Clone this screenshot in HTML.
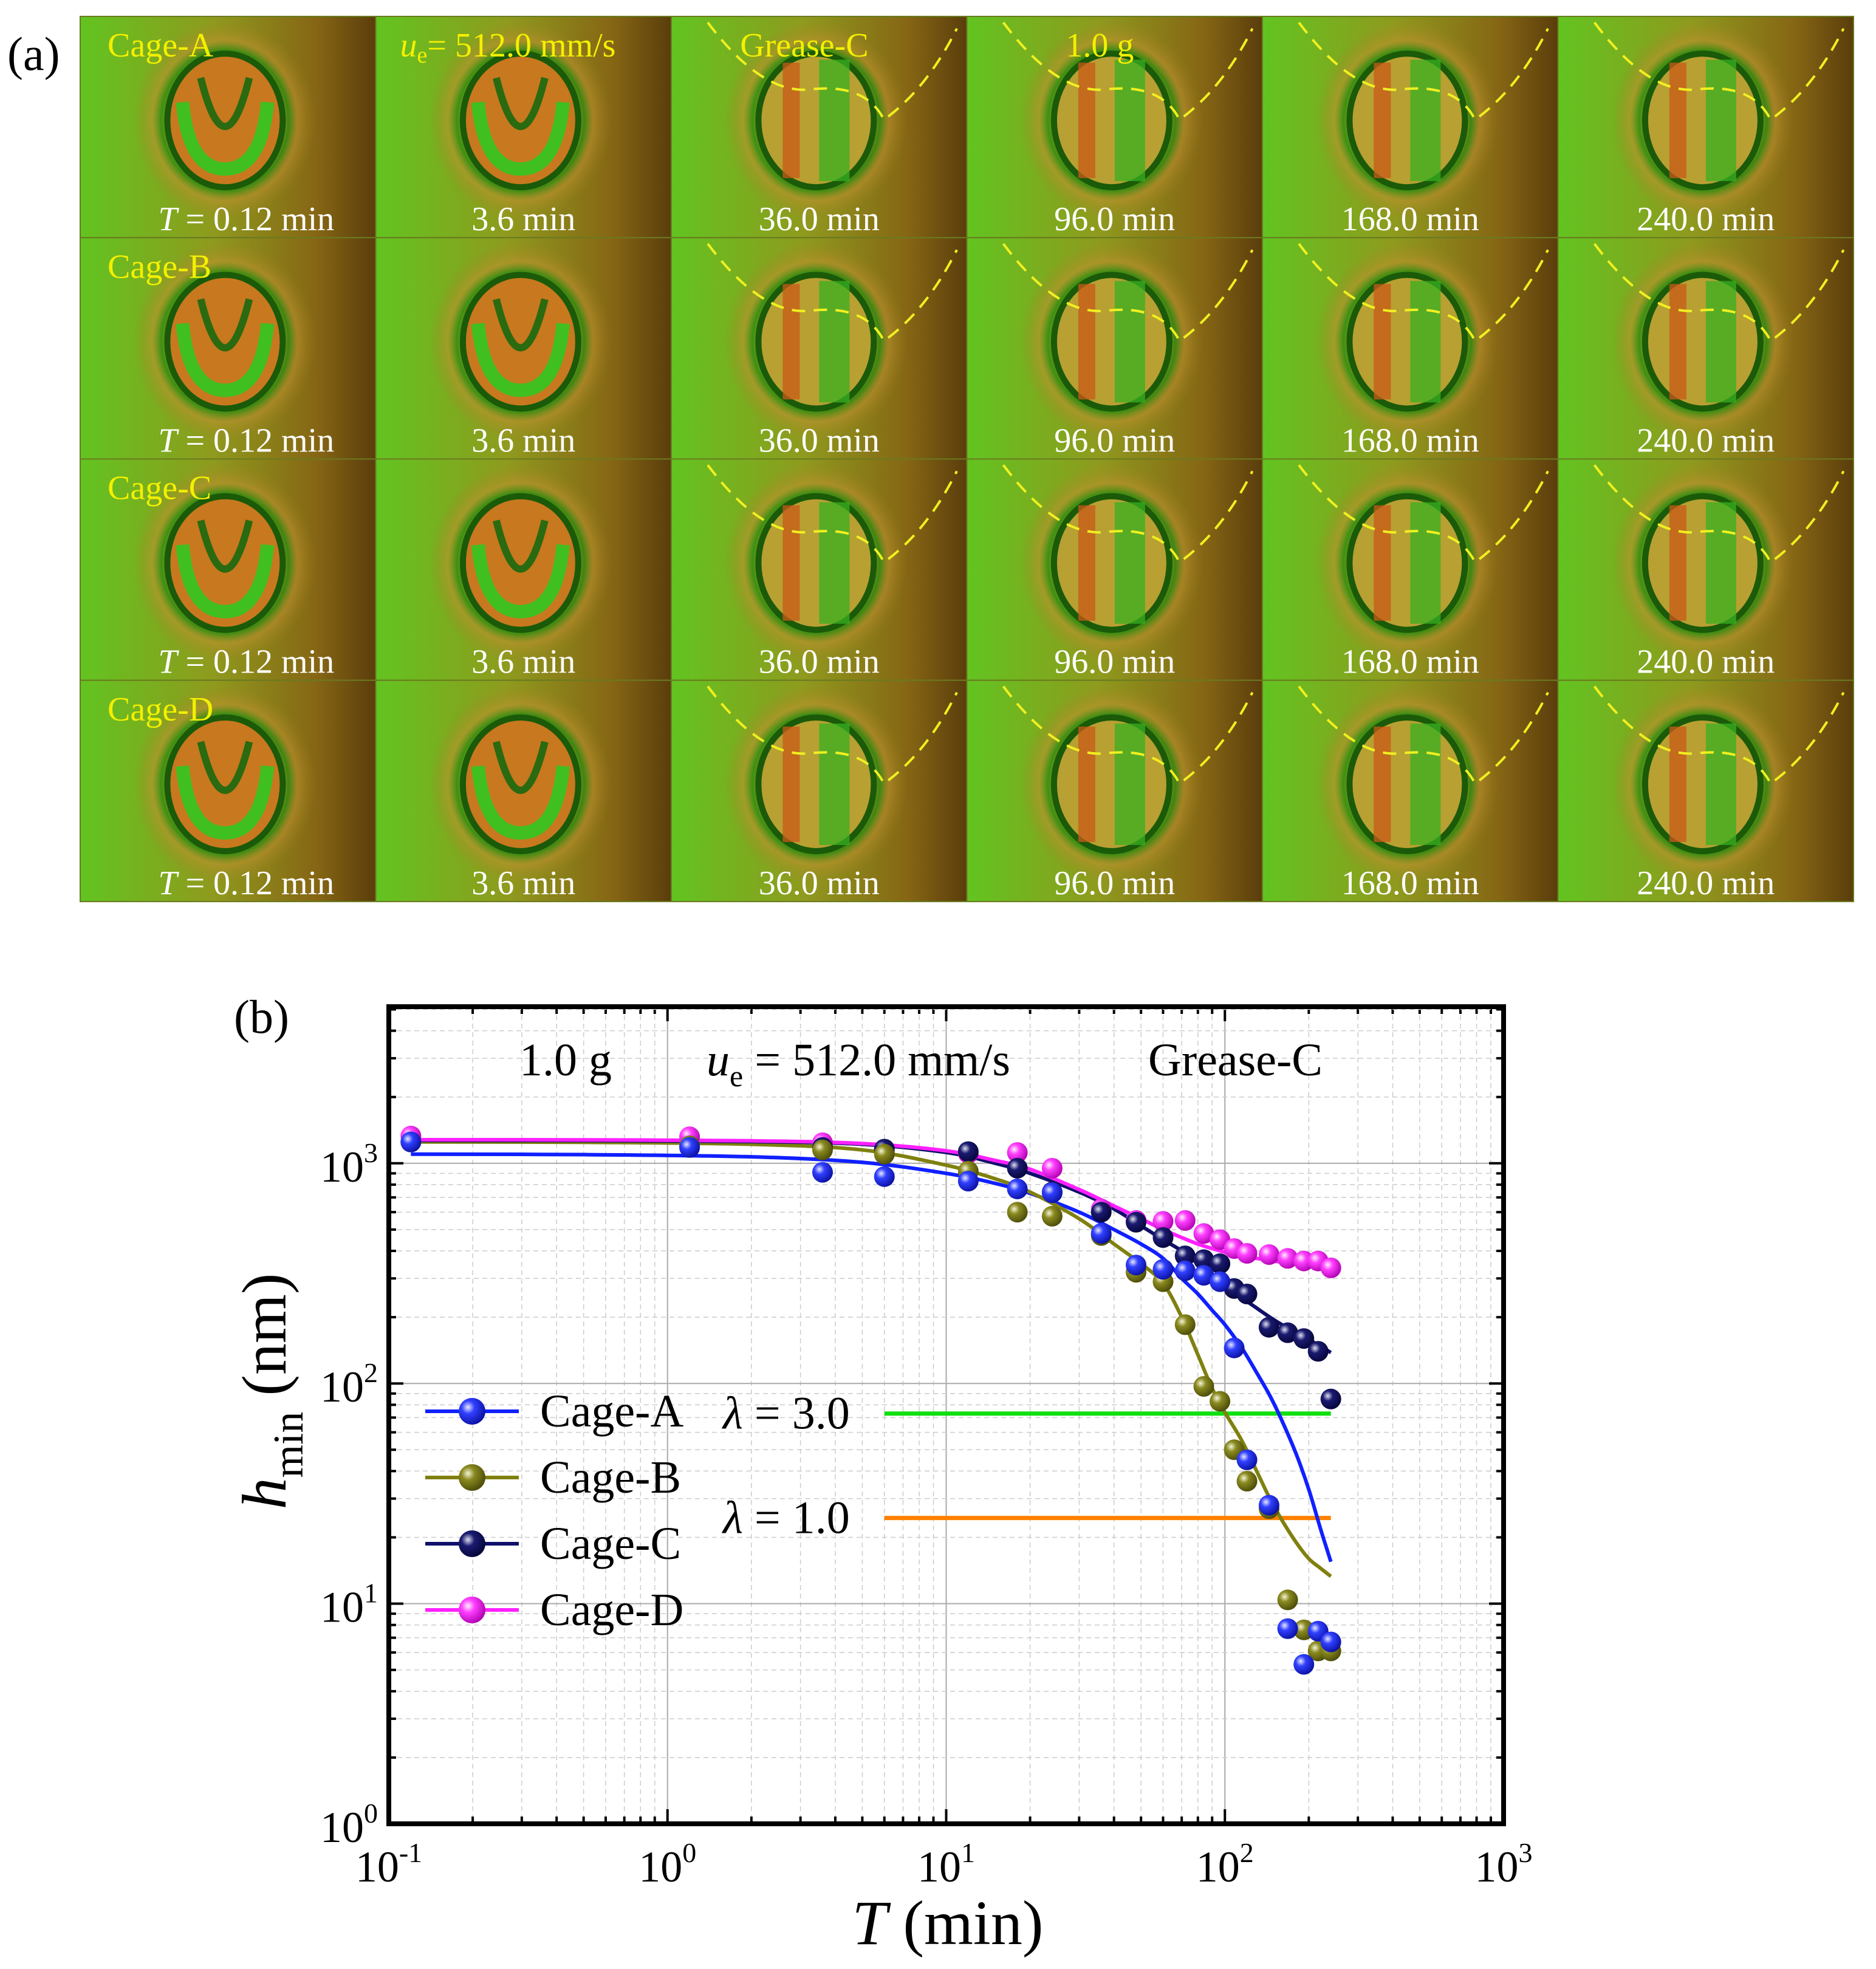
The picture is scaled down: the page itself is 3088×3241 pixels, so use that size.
<!DOCTYPE html>
<html><head><meta charset="utf-8"><style>
html,body{margin:0;padding:0;background:#fff;}
svg{display:block;font-family:"Liberation Serif",serif;}
</style></head><body>
<svg id="fig" width="3088" height="3241" viewBox="0 0 3088 3241" xmlns="http://www.w3.org/2000/svg">
<defs>
<linearGradient id="bg" x1="0" x2="1" y1="0" y2="0">
<stop offset="0" stop-color="#62c420"/><stop offset="0.45" stop-color="#8f9a1e"/><stop offset="0.8" stop-color="#866614"/><stop offset="1" stop-color="#5a3d0c"/>
</linearGradient>
<radialGradient id="ring" cx="0.5" cy="0.5" r="0.5">
<stop offset="0.55" stop-color="#d8a020"/><stop offset="0.7" stop-color="#2a8a10"/><stop offset="0.8" stop-color="#c09030" stop-opacity="0.7"/><stop offset="1" stop-color="#a08020" stop-opacity="0"/>
</radialGradient>
<radialGradient id="gA" cx="0.35" cy="0.35" r="0.7"><stop offset="0" stop-color="#e8e8ff"/><stop offset="0.35" stop-color="#3040ff"/><stop offset="1" stop-color="#0a10a0"/></radialGradient>
<radialGradient id="gB" cx="0.35" cy="0.35" r="0.7"><stop offset="0" stop-color="#f4f4d8"/><stop offset="0.35" stop-color="#8a8a20"/><stop offset="1" stop-color="#4a4a08"/></radialGradient>
<radialGradient id="gC" cx="0.35" cy="0.35" r="0.7"><stop offset="0" stop-color="#e0e0f0"/><stop offset="0.35" stop-color="#1a1a70"/><stop offset="1" stop-color="#05053a"/></radialGradient>
<radialGradient id="gD" cx="0.35" cy="0.35" r="0.7"><stop offset="0" stop-color="#fff0ff"/><stop offset="0.35" stop-color="#ff40ff"/><stop offset="1" stop-color="#b000b0"/></radialGradient>
</defs>
<text x="12" y="115" font-size="78">(a)</text>
<g id="panelA"></g>
<g id="panelB"></g>
</svg>
<script>
// ---------- chart data ----------
const times = [0.12,1.2,3.6,6,12,18,24,36,48,60,72,84,96,108,120,144,168,192,216,240];
const cageA = [1250,1180,910,870,830,765,735,480,345,330,325,310,290,145,45,28,7.7,5.3,7.5,6.7];
const cageB = [1250,1200,1150,1100,920,600,575,470,320,290,185,97,83,50,36,27,10.4,7.6,6.1,6.1];
const cageC = [1250,1200,1180,1160,1130,950,740,600,540,460,380,365,350,270,255,180,170,160,140,85];
const cageD = [1330,1320,1240,1150,1110,1120,950,620,550,545,550,480,450,410,390,385,370,360,360,335];
const fitT = [0.12,0.5,2,5,10,15,20,30,40,50,60,70,80,90,100,115,130,145,160,180,200,220,240];
const fitA = [1100,1095,1070,1010,900,810,730,600,500,430,370,300,255,215,185,145,112,88,68,48,33,22,15.5];
const fitB = [1250,1245,1220,1150,980,850,740,560,430,350,285,200,135,95,74,55,40,30,24,19,16,14.5,13.3];
const fitC = [1270,1268,1255,1220,1120,1000,900,740,620,520,450,400,350,310,280,245,220,200,185,170,158,148,138];
const fitD = [1280,1278,1265,1230,1140,1030,940,760,640,560,500,460,430,410,395,380,370,362,356,350,348,346,345];
const lambdaVals = [73,24.5];
const lambdaLabels = ["λ = 3.0","λ = 1.0"];
const lambdaRange = [6,240];
const xTicks = [-1,0,1,2,3];
const yTicks = [0,1,2,3];
const seriesNames = ["Cage-A","Cage-B","Cage-C","Cage-D"];

const NS="http://www.w3.org/2000/svg";
function mk(tag,attrs,parent){const e=document.createElementNS(NS,tag);for(const k in attrs)e.setAttribute(k,attrs[k]);parent.appendChild(e);return e;}

// ---------- panel a ----------
const A=document.getElementById('panelA');
const gx0=132,gy0=27,cw=486.5,ch=364.25;
const botLabels=["0.12 min","3.6 min","36.0 min","96.0 min","168.0 min","240.0 min"];
const rowNames=["Cage-A","Cage-B","Cage-C","Cage-D"];
const topLabels=["","","Grease-C","1.0 g","",""];
for(let r=0;r<4;r++)for(let c=0;c<6;c++){
  const x=gx0+c*cw,y=gy0+r*ch;
  const cell=mk('g',{},A);
  
  
  mk('rect',{x:x,y:y,width:cw,height:ch,fill:'url(#bg)',stroke:'#6a7a20','stroke-width':2},cell);
  const cx=x+cw*0.49,cy=y+ch*0.47;
  mk('ellipse',{cx:cx,cy:cy,rx:150,ry:165,fill:'url(#ring)',opacity:0.8},cell);
  const inner = c<2 ? '#c8781e' : '#b8a032';
  mk('ellipse',{cx:cx,cy:cy,rx:95,ry:110,fill:inner,stroke:'#1a5a08','stroke-width':10},cell);
  if(c<2){
    mk('path',{d:`M${cx-70} ${cy-30} Q${cx-60} ${cy+80} ${cx} ${cy+80} Q${cx+60} ${cy+80} ${cx+70} ${cy-30}`,fill:'none',stroke:'#40c020','stroke-width':22},cell);
    mk('path',{d:`M${cx-40} ${cy-70} Q${cx} ${cy+90} ${cx+40} ${cy-70}`,fill:'none',stroke:'#2a6a10','stroke-width':12},cell);
  } else {
    mk('rect',{x:cx-55,y:cy-95,width:28,height:190,fill:'#c85a18',opacity:0.75},cell);
    mk('rect',{x:cx+5,y:cy-100,width:50,height:200,fill:'#38b020',opacity:0.75},cell);
    mk('path',{d:`M${x+60} ${y+10} Q${x+150} ${y+130} ${x+230} ${y+120} Q${x+320} ${y+110} ${x+350} ${y+170} Q${x+420} ${y+120} ${x+470} ${y+20}`,fill:'none',stroke:'#f0f020','stroke-width':4,'stroke-dasharray':'22 14'},cell);
  }
  const lt=mk('text',{x:x+cw*0.5+ (c==0?30:0),y:y+352,'font-size':56,fill:'#fff','text-anchor':'middle'},cell);
  
  
  lt.innerHTML = c==0 ? '<tspan font-style="italic">T</tspan> = 0.12 min' : botLabels[c];
  if(c==0){const t=mk('text',{x:x+45,y:y+66,'font-size':56,fill:'#f4f000'},cell);t.textContent=rowNames[r];
    }
  if(r==0&&c==1){const t=mk('text',{x:x+40,y:y+66,'font-size':56,fill:'#f4f000'},cell);
    t.innerHTML='<tspan font-style="italic">u</tspan><tspan font-size="38" dy="10">e</tspan><tspan dy="-10">= 512.0 mm/s</tspan>';
    }
  if(r==0&&topLabels[c]){const t=mk('text',{x:x+cw*0.45,y:y+66,'font-size':56,fill:'#f4f000','text-anchor':'middle'},cell);t.textContent=topLabels[c];
    }
}

// ---------- panel b ----------
const B=document.getElementById('panelB');
const L=640,R=2475,T=1657,Bt=3002;
const xd=(R-L)/4, yd=362.4;
function X(v){return L+(Math.log10(v)+1)*xd;}
function Y(v){return Bt-Math.log10(v)*yd;}
mk('rect',{x:L,y:T,width:R-L,height:Bt-T,fill:'#fff'},B);
for(let d=-1;d<3;d++)for(let m=1;m<10;m++){const v=m*Math.pow(10,d);const x=X(v);
  if(m==1){if(d>-1)mk('line',{x1:x,x2:x,y1:T,y2:Bt,stroke:'#aaa','stroke-width':2},B);}
  else mk('line',{x1:x,x2:x,y1:T,y2:Bt,stroke:'#ccc','stroke-width':1.5,'stroke-dasharray':'8 6'},B);
  mk('line',{x1:x,x2:x,y1:Bt,y2:Bt-(m==1?24:12),stroke:'#000','stroke-width':4},B);
  mk('line',{x1:x,x2:x,y1:T,y2:T+(m==1?24:12),stroke:'#000','stroke-width':4},B);}
for(let d=0;d<4;d++)for(let m=1;m<10;m++){const v=m*Math.pow(10,d);const y=Y(v);if(y<T)continue;
  if(m==1){if(d>0)mk('line',{x1:L,x2:R,y1:y,y2:y,stroke:'#aaa','stroke-width':2},B);}
  else mk('line',{x1:L,x2:R,y1:y,y2:y,stroke:'#ccc','stroke-width':1.5,'stroke-dasharray':'8 6'},B);
  mk('line',{x1:L,x2:L+(m==1?24:12),y1:y,y2:y,stroke:'#000','stroke-width':4},B);
  mk('line',{x1:R,x2:R-(m==1?24:12),y1:y,y2:y,stroke:'#000','stroke-width':4},B);}
const frame=mk('rect',{x:L,y:T,width:R-L,height:Bt-T,fill:'none',stroke:'#000','stroke-width':8},B);

xTicks.forEach(t=>{const e=mk('text',{x:X(Math.pow(10,t)),y:Bt+95,'font-size':72,'text-anchor':'middle'},B);
  e.innerHTML='10<tspan font-size="46" dy="-32">'+t+'</tspan>';
  });
yTicks.forEach(t=>{const e=mk('text',{x:L-18,y:Y(Math.pow(10,t))+30,'font-size':72,'text-anchor':'end'},B);
  e.innerHTML='10<tspan font-size="46" dy="-32">'+t+'</tspan>';
  });
const xt=mk('text',{x:1560,y:3200,'font-size':104,'text-anchor':'middle'},B);
xt.innerHTML='<tspan font-style="italic">T</tspan> (min)';

const yt=mk('text',{x:0,y:0,'font-size':104,'text-anchor':'middle',transform:'translate(470,2290) rotate(-90)'},B);
yt.innerHTML='<tspan font-style="italic">h</tspan><tspan font-size="70" dy="28">min</tspan><tspan dy="-28"> (nm)</tspan>';

const pb=mk('text',{x:385,y:1700,'font-size':78},B);pb.textContent='(b)';

[[855,'1.0 g'],[1163,null],[1890,'Grease-C']].forEach(([x,s])=>{const e=mk('text',{x:x,y:1770,'font-size':76},B);
  if(s)e.textContent=s;else e.innerHTML='<tspan font-style="italic">u</tspan><tspan font-size="50" dy="18">e</tspan><tspan dy="-18"> = 512.0 mm/s</tspan>';
  });
const lamCols=['#10e010','#ff8000'];
lambdaVals.forEach((v,i)=>{const l=mk('line',{x1:X(lambdaRange[0]),x2:X(lambdaRange[1]),y1:Y(v),y2:Y(v),stroke:lamCols[i],'stroke-width':7},B);
  
  const t=mk('text',{x:1190,y:Y(v)+25,'font-size':76},B);
  t.innerHTML='<tspan font-style="italic">λ</tspan>'+lambdaLabels[i].slice(1);
  });
const cols=['#1020ff','#808010','#10106a','#ff20ff'];
const grads=['url(#gA)','url(#gB)','url(#gC)','url(#gD)'];
const data=[cageA,cageB,cageC,cageD];
const fits=[fitA,fitB,fitC,fitD];
function smooth(xs,ys){const P=xs.map((t,i)=>[X(t),Y(ys[i])]);let d='M'+P[0][0]+' '+P[0][1];
  for(let i=0;i<P.length-1;i++){const p0=P[Math.max(0,i-1)],p1=P[i],p2=P[i+1],p3=P[Math.min(P.length-1,i+2)];
   d+=` C${p1[0]+(p2[0]-p0[0])/6} ${p1[1]+(p2[1]-p0[1])/6} ${p2[0]-(p3[0]-p1[0])/6} ${p2[1]-(p3[1]-p1[1])/6} ${p2[0]} ${p2[1]}`;}return d;}
[0,1,2,3].forEach(s=>{const p=mk('path',{d:smooth(fitT,fits[s]),fill:'none',stroke:cols[s],'stroke-width':6},B);
  });
[3,2,1,0].forEach(s=>{data[s].forEach((v,i)=>{const c=mk('circle',{cx:X(times[i]),cy:Y(v),r:17,fill:grads[s]},B);
  });});
seriesNames.forEach((n,i)=>{const y=2323+i*109;const g=mk('g',{},B);
  
  mk('line',{x1:700,x2:854,y1:y,y2:y,stroke:cols[i],'stroke-width':6},g);
  mk('circle',{cx:777,cy:y,r:22,fill:grads[i]},g);
  const t=mk('text',{x:889,y:y+25,'font-size':76},g);t.textContent=n;});
</script>
</body></html>
